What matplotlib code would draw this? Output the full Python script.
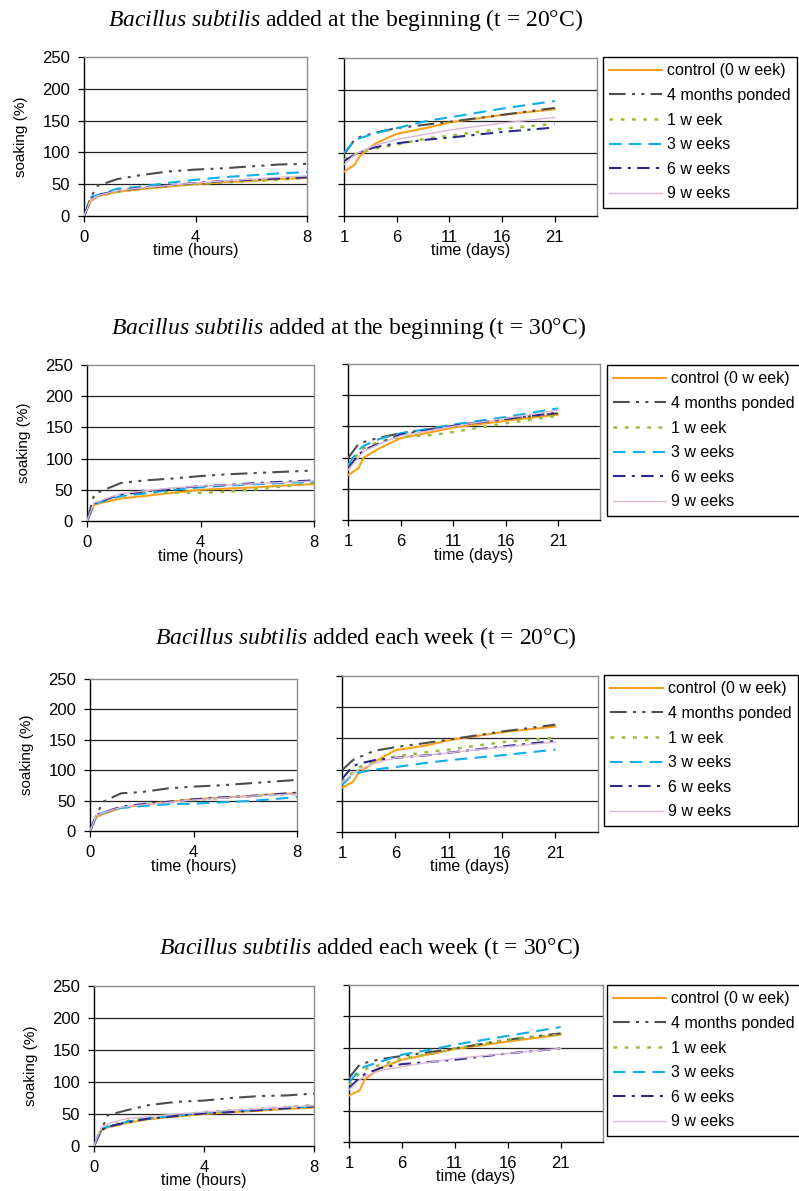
import matplotlib
matplotlib.use("Agg")
import matplotlib.pyplot as plt
from matplotlib.lines import Line2D

plt.rcParams['font.family'] = ['Liberation Sans', 'DejaVu Sans']
plt.rcParams['mathtext.fontset'] = 'custom'
plt.rcParams['mathtext.rm'] = 'Liberation Serif'
plt.rcParams['mathtext.it'] = 'Liberation Serif:italic'

# ---- data ----
series_names = ["control (0 w eek)", "4 months ponded", "1 w eek",
                "3 w eeks", "6 w eeks", "9 w eeks"]

hours = [0, 0.25, 0.5, 1.2, 2, 3, 4, 5, 6, 7, 8]
days = [1, 2, 2.5, 4, 6, 9, 11, 16, 21]

titles = [
    r"$\mathit{Bacillus\ subtilis}$ added at the beginning (t = 20°C)",
    r"$\mathit{Bacillus\ subtilis}$ added at the beginning (t = 30°C)",
    r"$\mathit{Bacillus\ subtilis}$ added each week (t = 20°C)",
    r"$\mathit{Bacillus\ subtilis}$ added each week (t = 30°C)",
]

# order of rows: control, 4 months, 1 week, 3 weeks, 6 weeks, 9 weeks
hours_b1 = [
    [0, 24, 31, 38, 42, 46, 50, 53, 55, 58, 60],
    [0, 30, 48, 58, 64, 70, 73, 75, 78, 81, 82],
    [0, 25, 32, 38, 43, 47, 50, 53, 55, 57, 60],
    [0, 30, 33, 43, 46, 52, 57, 61, 64, 67, 69],
    [0, 27, 33, 40, 44, 48, 52, 55, 57, 59, 61],
    [0, 26, 32, 40, 44, 48, 52, 55, 58, 61, 63],
]
days_b1 = [
    [70, 81, 95, 115, 130, 140, 148, 160, 169],
    [97, 121, 125, 132, 139, 145, 149, 160, 171],
    [89, 97, 100, 107, 113, 123, 127, 138, 146],
    [100, 119, 123, 131, 139, 151, 156, 170, 182],
    [87, 97, 101, 109, 115, 121, 124, 133, 140],
    [81, 97, 102, 112, 121, 130, 136, 147, 156],
]

hours_b2 = [
    [0, 26, 29, 36, 40, 45, 50, 52, 54, 57, 59],
    [0, 42, 48, 61, 65, 68, 72, 75, 77, 79, 81],
    [0, 27, 31, 42, 46, 46, 45, 47, 51, 56, 61],
    [0, 27, 31, 40, 44, 50, 54, 57, 59, 61, 63],
    [0, 28, 32, 43, 47, 52, 56, 58, 61, 63, 65],
    [0, 29, 33, 44, 48, 53, 56, 58, 60, 62, 64],
]
days_b2 = [
    [72, 83, 100, 115, 131, 141, 148, 159, 169],
    [99, 122, 125, 132, 139, 146, 151, 162, 171],
    [86, 107, 115, 126, 133, 136, 141, 155, 167],
    [88, 112, 119, 130, 139, 147, 153, 165, 179],
    [83, 104, 112, 123, 137, 145, 151, 162, 172],
    [80, 100, 110, 122, 135, 144, 150, 163, 176],
]

hours_b3 = [
    [0, 23, 28, 38, 43, 48, 52, 55, 57, 60, 62],
    [0, 26, 48, 62, 64, 70, 73, 75, 78, 81, 84],
    [0, 24, 29, 38, 43, 47, 51, 54, 57, 59, 61],
    [0, 26, 30, 38, 41, 44, 45, 47, 49, 52, 56],
    [0, 27, 30, 40, 44, 48, 52, 55, 57, 60, 63],
    [0, 26, 30, 39, 43, 47, 51, 54, 57, 59, 61],
]
days_b3 = [
    [71, 80, 93, 112, 131, 139, 147, 160, 169],
    [99, 115, 119, 130, 136, 143, 148, 161, 172],
    [80, 96, 103, 113, 121, 128, 132, 144, 151],
    [75, 93, 95, 100, 104, 111, 115, 123, 132],
    [85, 105, 109, 115, 119, 123, 127, 137, 146],
    [79, 93, 99, 110, 119, 123, 127, 136, 144],
]

hours_b4 = [
    [0, 24, 29, 36, 42, 46, 50, 53, 55, 58, 60],
    [0, 23, 48, 56, 64, 69, 71, 75, 78, 79, 82],
    [0, 26, 31, 39, 45, 48, 53, 56, 58, 61, 64],
    [0, 26, 30, 38, 43, 47, 52, 54, 57, 59, 62],
    [0, 25, 30, 37, 43, 47, 51, 53, 56, 59, 62],
    [0, 28, 35, 43, 46, 50, 53, 56, 58, 61, 63],
]
days_b4 = [
    [74, 82, 100, 118, 131, 141, 148, 160, 171],
    [102, 123, 126, 132, 137, 144, 149, 163, 173],
    [91, 110, 116, 123, 133, 141, 149, 163, 171],
    [95, 115, 120, 128, 139, 148, 155, 169, 183],
    [86, 102, 108, 118, 124, 128, 131, 141, 149],
    [83, 99, 105, 114, 120, 128, 133, 141, 149],
]

# ---- styles ----
styles = [
    dict(color="#F9A11B", lw=1.5, ls="-"),
    dict(color="#4D4D4D", lw=1.5, ls=(0, (8, 3, 1.5, 3, 1.5, 3))),
    dict(color="#9BBB3B", lw=1.8, ls=(0, (1.5, 3))),
    dict(color="#10AEEA", lw=1.5, ls=(0, (6, 3.5))),
    dict(color="#2B2A8A", lw=1.5, ls=(0, (6, 3, 1.5, 3))),
    dict(color="#D9B8DA", lw=1.0, ls="-"),
]

W, H = 799, 1191

# pixel boxes: (left, right, top, bottom)
layout = [
    dict(left=(84, 307, 57, 216), right=(344, 597, 58, 216), leg=(603, 57), title=(345, 20)),
    dict(left=(87, 314, 365, 521), right=(348, 600, 364, 520), leg=(607, 365), title=(348, 328)),
    dict(left=(90, 297, 679, 831), right=(342, 598, 676, 832), leg=(604, 675), title=(366, 638)),
    dict(left=(94, 314, 986, 1146), right=(349, 603, 985, 1142), leg=(607, 985), title=(370, 948)),
]


def px_axes(fig, box):
    l, r, t, b = box
    return fig.add_axes([l / W, 1 - b / H, (r - l) / W, (b - t) / H])


def style_axes(ax):
    ax.set_ylim(0, 250)
    ax.set_yticks([0, 50, 100, 150, 200, 250])
    for y in [50, 100, 150, 200]:
        ax.axhline(y, color="#222222", lw=0.9, zorder=1)
    ax.spines["left"].set_color("black")
    ax.spines["bottom"].set_color("black")
    ax.spines["top"].set_color("#8c8c8c")
    ax.spines["right"].set_color("#8c8c8c")
    for s in ax.spines.values():
        s.set_linewidth(1.0)
    ax.tick_params(direction="out", length=4, width=0.9, labelsize=12)
    ax.tick_params(axis="x", pad=6)
    ax.tick_params(axis="y", pad=6)


def draw_block(fig, lay, title, hrs, dys):
    axl = px_axes(fig, lay["left"])
    style_axes(axl)
    for vals, st in zip(hrs, styles):
        axl.plot(hours, vals, zorder=3, **st)
    axl.set_xlim(0, 8)
    axl.set_xticks([0, 4, 8])
    axl.set_xlabel("time (hours)", fontsize=11.5, labelpad=-1)
    axl.set_ylabel("soaking (%)", fontsize=11, labelpad=10)

    axr = px_axes(fig, lay["right"])
    style_axes(axr)
    for vals, st in zip(dys, styles):
        axr.plot(days, vals, zorder=3, **st)
    axr.set_xlim(1, 25)
    axr.set_xticks([1, 6, 11, 16, 21])
    axr.set_yticklabels([])
    axr.set_xlabel("time (days)", fontsize=11.5, labelpad=-1)

    handles = [Line2D([], [], **st) for st in styles]
    lx, ly = lay["leg"]
    leg = fig.legend(handles, series_names, loc="upper left",
                     bbox_to_anchor=(lx / W, 1 - ly / H), bbox_transform=fig.transFigure,
                     fontsize=11.5, frameon=True, fancybox=False, edgecolor="black",
                     framealpha=1, borderpad=0.4, handlelength=3.3, handletextpad=0.3,
                     labelspacing=0.6, borderaxespad=0)
    leg.get_frame().set_linewidth(1.0)

    tx, ty = lay["title"]
    fig.text(tx / W, 1 - ty / H, title, ha="center", va="center",
             fontsize=17, family="Liberation Serif")


fig = plt.figure(figsize=(W / 100, H / 100), dpi=100)
blocks = [(hours_b1, days_b1), (hours_b2, days_b2), (hours_b3, days_b3), (hours_b4, days_b4)]
for lay, title, (hrs, dys) in zip(layout, titles, blocks):
    draw_block(fig, lay, title, hrs, dys)

fig.savefig("out.png", dpi=100)
